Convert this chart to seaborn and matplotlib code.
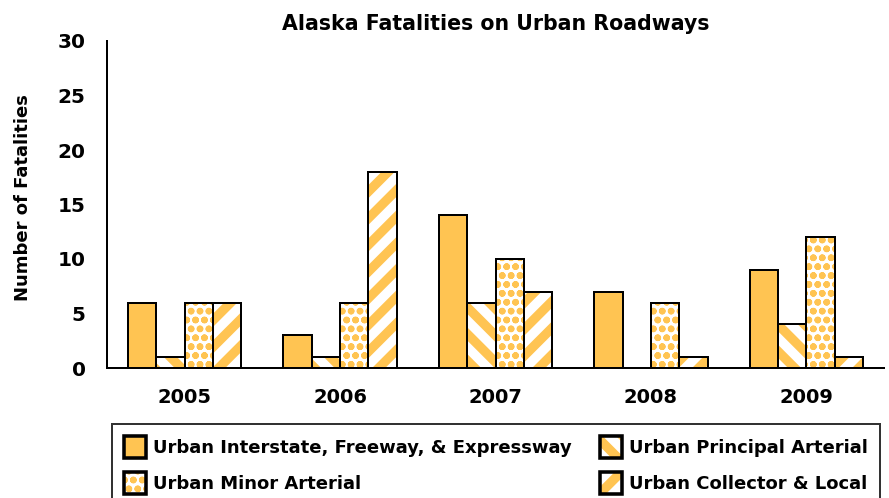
import numpy as np
import pandas as pd
import matplotlib.pyplot as plt
import seaborn as sns
from matplotlib.patches import Patch
from matplotlib.legend_handler import HandlerTuple

# data
years = ['2005', '2006', '2007', '2008', '2009']
road_types = ['Urban Interstate, Freeway, & Expressway', 'Urban Principal Arterial',
              'Urban Minor Arterial', 'Urban Collector & Local']
interstate = [6, 3, 14, 7, 9]
principal = [1, 1, 6, 0, 4]
minor_art = [6, 6, 10, 6, 12]
collector = [6, 18, 7, 1, 1]

orange = '#FFC452'
hatches = ['', '\\\\', 'ooo', '//']
hatch_lw = [1.0, 4.2, 1.4, 4.2]

sns.set_style('white')
plt.rcParams['font.family'] = ['DejaVu Sans']
plt.rcParams['font.weight'] = 'bold'
for key in ['text.color', 'axes.labelcolor', 'xtick.color', 'ytick.color']:
    plt.rcParams[key] = 'black'

df = pd.DataFrame({
    'Year': years * 4,
    'Type': np.repeat(road_types, len(years)),
    'Fatalities': interstate + principal + minor_art + collector,
})

DPI = 160
fig = plt.figure(figsize=(889 / DPI, 498 / DPI), dpi=DPI)
ax = fig.add_axes([107 / 889, 1 - 368 / 498, (884 - 107) / 889, (368 - 41) / 498])

# filled / hatched bars
sns.barplot(data=df, x='Year', y='Fatalities', hue='Type', hue_order=road_types,
            palette=[orange] * 4, width=0.73, linewidth=0, saturation=1,
            errorbar=None, legend=False, ax=ax)
for cont, h, lw in zip(ax.containers, hatches, hatch_lw):
    for bar in cont:
        if h:
            bar.set_facecolor('white')
            bar.set_edgecolor(orange)
            bar.set_hatch(h)
            if hasattr(bar, 'set_hatch_linewidth'):
                bar.set_hatch_linewidth(lw)

# black outlines on top
sns.barplot(data=df, x='Year', y='Fatalities', hue='Type', hue_order=road_types,
            palette=['black'] * 4, width=0.73, linewidth=0.9, fill=False,
            errorbar=None, legend=False, ax=ax)

# axes
ax.set_xlim(-0.5, 4.5)
ax.set_ylim(0, 30)
ax.set_yticks(range(0, 31, 5))
ax.set_xticks(np.arange(-0.5, 5, 1))
ax.set_xticklabels([])
ax.set_xticks(range(len(years)), minor=True)
ax.set_xticklabels(years, minor=True, fontsize=8.8, fontweight='bold')
ax.tick_params(axis='both', which='major', direction='inout', length=7.2,
               width=0.9, color='black')
ax.tick_params(axis='x', which='minor', length=0, pad=9)
ax.tick_params(axis='y', labelsize=9, pad=6)
for s in ['top', 'right']:
    ax.spines[s].set_visible(False)
for s in ['left', 'bottom']:
    ax.spines[s].set_color('black')
    ax.spines[s].set_linewidth(0.9)

ax.set_xlabel('')
ax.set_ylabel('Number of Fatalities', fontsize=8.1, fontweight='bold')
ax.yaxis.set_label_coords(-0.0965, 0.52)
ax.set_title('Alaska Fatalities on Urban Roadways', fontsize=9.25,
             fontweight='bold', pad=5)

# legend (column-major order)
handles = []
for h in hatches:
    fill = Patch(facecolor=orange if not h else 'white', edgecolor=orange,
                 hatch=h, linewidth=0)
    border = Patch(fill=False, edgecolor='black', linewidth=1.6)
    handles.append((fill, border))
order = [0, 2, 1, 3]
leg = ax.legend([handles[i] for i in order], [road_types[i] for i in order],
                handler_map={tuple: HandlerTuple(ndivide=1, pad=0)},
                ncol=2, loc='upper left',
                bbox_to_anchor=(112 / 889, 1 - 424 / 498, (880 - 112) / 889, 0),
                bbox_transform=fig.transFigure, mode='expand', borderaxespad=0,
                prop={'size': 8.1, 'weight': 'bold'}, handlelength=1.22,
                handleheight=1.5, handletextpad=0.39, labelspacing=0.8,
                borderpad=0.65, frameon=True, fancybox=False, edgecolor='#333333',
                framealpha=1)
leg.get_frame().set_linewidth(0.9)
for lh, i in zip(leg.legend_handles, order):
    if hatches[i] and hasattr(lh, 'set_hatch_linewidth'):
        lh.set_hatch_linewidth(hatch_lw[i])

fig.savefig('out.png', dpi=DPI)
